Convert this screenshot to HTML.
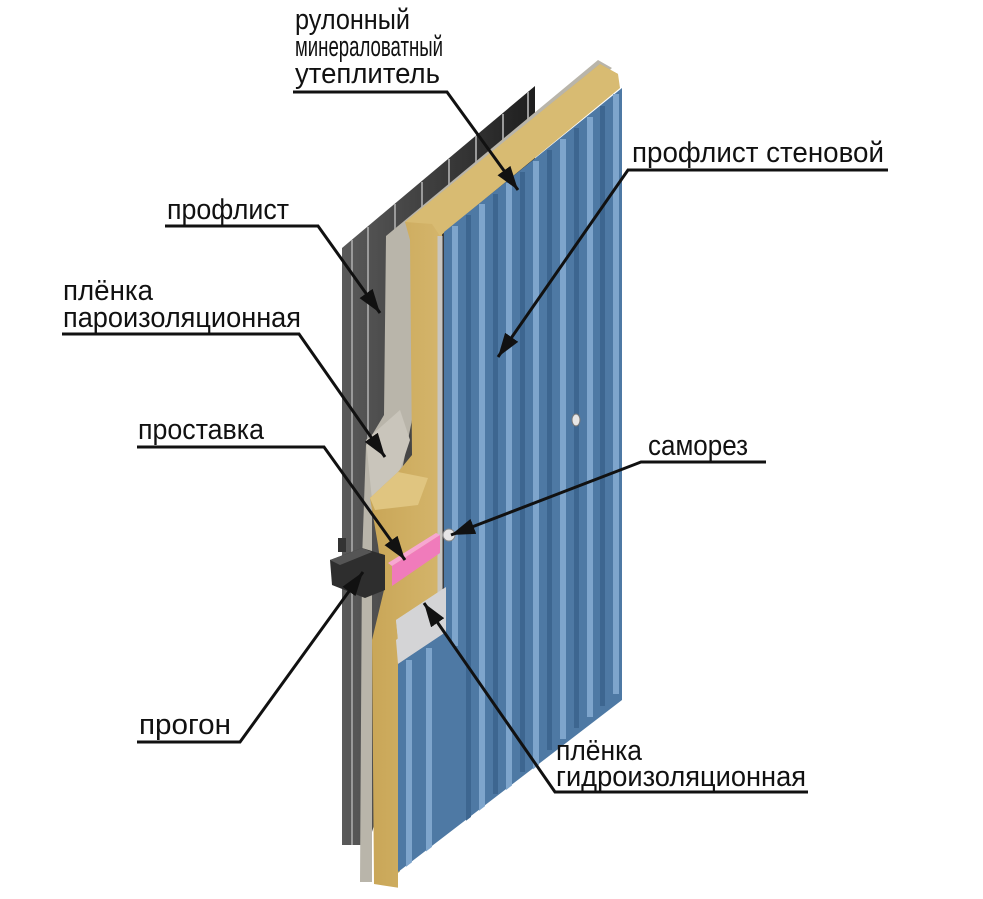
<!DOCTYPE html>
<html><head><meta charset="utf-8"><style>
html,body{margin:0;padding:0;background:#fff;}
svg{display:block;}
text{font-family:"Liberation Sans",Arial,sans-serif;font-size:29px;fill:#111;}
</style></head><body>
<svg width="983" height="899" viewBox="0 0 983 899" xmlns="http://www.w3.org/2000/svg">
<defs>
<linearGradient id="dk" x1="0" y1="0" x2="1" y2="0"><stop offset="0" stop-color="#5a5a5a"/><stop offset="1" stop-color="#1e1e1e"/></linearGradient>
<linearGradient id="wool" x1="0" y1="0" x2="1" y2="0"><stop offset="0" stop-color="#c9a657"/><stop offset="0.5" stop-color="#dcc07a"/><stop offset="1" stop-color="#c8a555"/></linearGradient>
<marker id="ah" viewBox="0 0 24 16" refX="24" refY="8" markerWidth="24" markerHeight="16" markerUnits="userSpaceOnUse" orient="auto"><path d="M0,0 L24,8 L0,16 z" fill="#111"/></marker>
</defs>

<polygon points="342,248 535,86 535,300 368,845 342,845" fill="url(#dk)"/>
<g stroke="#9a9a9a" stroke-width="2">
<line x1="352" y1="240" x2="352" y2="845"/>
<line x1="368" y1="227" x2="368" y2="845"/>
<line x1="395" y1="204" x2="395" y2="240"/>
<line x1="422" y1="182" x2="422" y2="215"/>
<line x1="449" y1="159" x2="449" y2="192"/>
<line x1="476" y1="136" x2="476" y2="170"/>
<line x1="503" y1="114" x2="503" y2="148"/>
<line x1="528" y1="92" x2="528" y2="126"/>
</g>

<polygon points="386,236 598,60 612,68 412,240 412,420 402,470 372,500 372,882 360,882 362,560 366,445 384,415" fill="#b9b5aa"/>
<polygon points="366,440 400,410 410,440 400,470 372,500" fill="#c9c5bb"/>

<polygon points="405,222 600,64 618,74 442,232 442,640 400,664 400,888 374,884 372,640 384,590 378,545 370,498 398,472 412,455 410,240" fill="url(#wool)"/>
<polygon points="405,222 600,64 618,74 620,88 440,236 432,224" fill="#d8bb72"/>
<polygon points="370,498 398,472 428,478 418,505 375,510" fill="#e0c580"/>
<line x1="440" y1="236" x2="440" y2="640" stroke="#c9c6c0" stroke-width="5"/>

<polygon points="392,566 440,535 440,553 392,586" fill="#f07bbb"/>
<polygon points="392,566 440,535 436,533 388,563" fill="#f7a7d2"/>

<polygon points="396,620 446,587 446,626 400,660" fill="#d4d4d6"/>

<polygon points="444,232 622,88 622,700 398,872 398,664 444,632" fill="#4e79a4"/>
<g fill="#7ea5cc">
<rect x="452" y="226" width="6" height="420"/>
<rect x="479" y="204" width="6" height="610"/>
<rect x="506" y="183" width="6" height="610"/>
<rect x="533" y="161" width="6" height="610"/>
<rect x="560" y="139" width="6" height="600"/>
<rect x="587" y="117" width="6" height="600"/>
<rect x="613" y="94" width="6" height="600"/>
<rect x="406" y="662" width="6" height="205"/>
<rect x="426" y="648" width="6" height="205"/>
</g>
<g fill="#3d6690">
<rect x="466" y="215" width="5" height="620"/>
<rect x="493" y="194" width="5" height="600"/>
<rect x="520" y="172" width="5" height="600"/>
<rect x="547" y="150" width="5" height="600"/>
<rect x="574" y="128" width="5" height="600"/>
<rect x="600" y="106" width="5" height="600"/>
</g>
<polygon points="398,873 622,701 622,899 398,899" fill="#fff"/>
<polygon points="444,600 446,632 398,664 396,640" fill="#d4d4d6"/>
<polygon points="396,620 446,587 446,630 400,660" fill="#d4d4d6"/>
<polygon points="398,664 446,632 446,700 398,730" fill="#4e79a4"/>
<rect x="406" y="660" width="6" height="70" fill="#7ea5cc"/>
<rect x="426" y="648" width="6" height="70" fill="#7ea5cc"/>

<circle cx="449" cy="535" r="6" fill="#e6e6e6" stroke="#888" stroke-width="1"/>
<ellipse cx="576" cy="420" rx="4" ry="6" fill="#e6e6e6" stroke="#777" stroke-width="1"/>

<polygon points="330,560 362,548 385,555 385,590 365,598 332,585" fill="#2e2e2e"/>
<polygon points="330,560 362,548 372,552 340,565" fill="#555"/>
<rect x="338" y="538" width="8" height="14" fill="#333"/>

<g stroke="#111" stroke-width="3" fill="none">
<polyline points="293,92 447,92 518,190" marker-end="url(#ah)"/>
<polyline points="888,170 628,170 498,357" marker-end="url(#ah)"/>
<polyline points="165,226 318,226 380,313" marker-end="url(#ah)"/>
<polyline points="62,334 299,334 385,457" marker-end="url(#ah)"/>
<polyline points="137,447 324,447 405,560" marker-end="url(#ah)"/>
<polyline points="137,742 240,742 363,572" marker-end="url(#ah)"/>
<polyline points="766,462 641,462 451,535" marker-end="url(#ah)"/>
<polyline points="808,792 555,792 424,603" marker-end="url(#ah)"/>
</g>

<text x="295" y="29" textLength="115" lengthAdjust="spacingAndGlyphs">рулонный</text>
<text x="295" y="56" textLength="148" lengthAdjust="spacingAndGlyphs">минераловатный</text>
<text x="295" y="83" textLength="145" lengthAdjust="spacingAndGlyphs">утеплитель</text>
<text x="632" y="162" textLength="252" lengthAdjust="spacingAndGlyphs">профлист стеновой</text>
<text x="167" y="219" textLength="122" lengthAdjust="spacingAndGlyphs">профлист</text>
<text x="63" y="300" textLength="90" lengthAdjust="spacingAndGlyphs">плёнка</text>
<text x="63" y="327" textLength="238" lengthAdjust="spacingAndGlyphs">пароизоляционная</text>
<text x="138" y="439" textLength="126" lengthAdjust="spacingAndGlyphs">проставка</text>
<text x="648" y="455" textLength="100" lengthAdjust="spacingAndGlyphs">саморез</text>
<text x="139" y="734" textLength="92" lengthAdjust="spacingAndGlyphs">прогон</text>
<text x="556" y="760" textLength="86" lengthAdjust="spacingAndGlyphs">плёнка</text>
<text x="556" y="786" textLength="250" lengthAdjust="spacingAndGlyphs">гидроизоляционная</text>
</svg>
</body></html>
